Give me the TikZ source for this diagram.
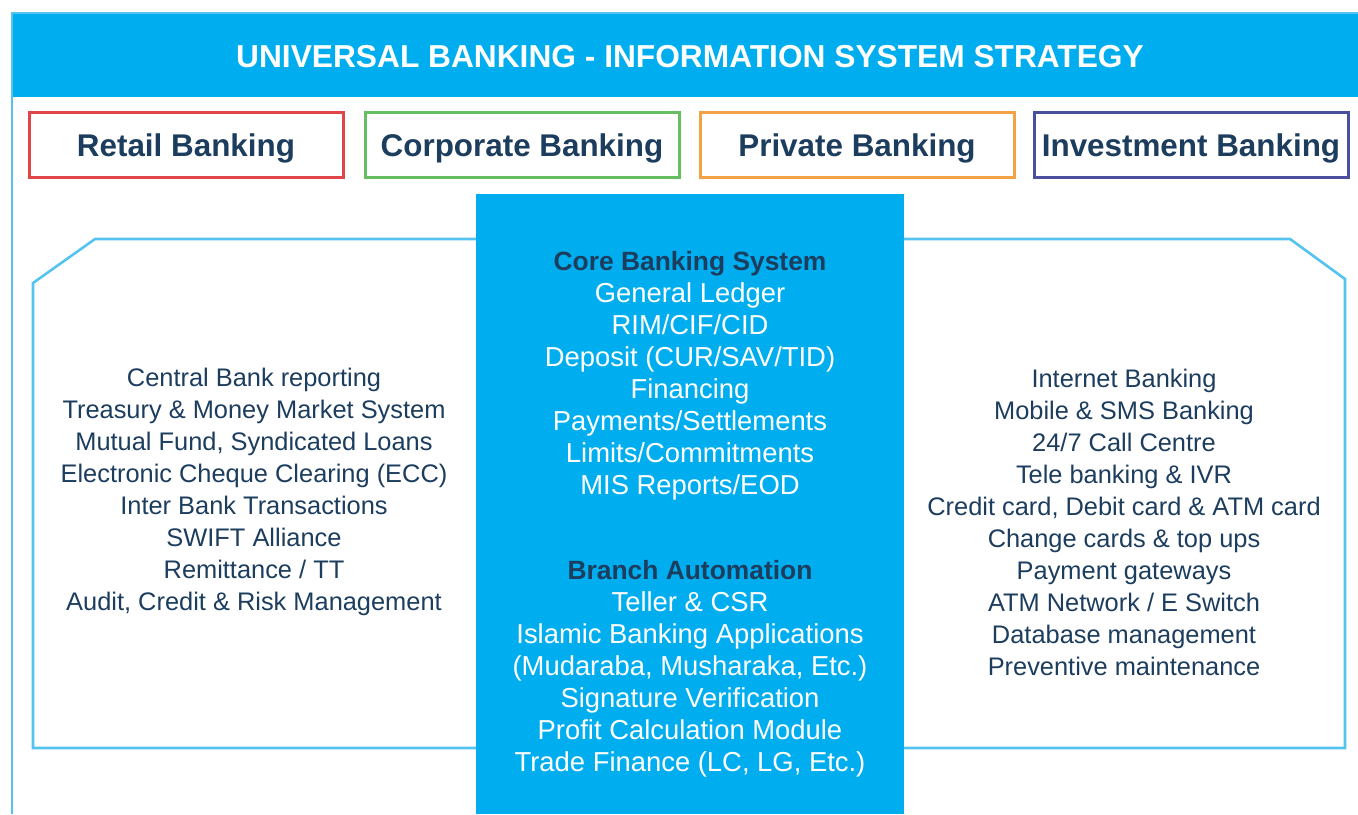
\documentclass[tikz,border=0pt]{standalone}
\usepackage{fontspec}
\setmainfont{Liberation Sans}
\usepackage{tikz}
\usetikzlibrary{positioning}
\definecolor{bandblue}{HTML}{00AEEF}
\definecolor{frameline}{HTML}{55C3EF}
\definecolor{inknavy}{HTML}{1C3D5E}
\definecolor{retailR}{HTML}{E0454A}
\definecolor{corpG}{HTML}{66BE62}
\definecolor{privO}{HTML}{F3A246}
\definecolor{investB}{HTML}{4A509E}
\newcommand{\blockhead}[1]{{\bfseries\color{inknavy}\fontsize{13.2}{16}\selectfont #1}}

\begin{document}
\begin{tikzpicture}[x=0.5pt, y=-0.5pt,
    unitbox/.style={draw, line width=1.5pt, fill=white, minimum width=157pt, minimum height=32.5pt, inner sep=0pt, text height=13.5pt, text depth=2pt, text=inknavy, font=\bfseries\fontsize{15.7}{18}\selectfont},
    sidelist/.style={align=center, inner sep=0pt, text=inknavy, font=\fontsize{12.7}{16}\selectfont},
    corelist/.style={align=center, inner sep=0pt, text=white, font=\fontsize{13.7}{16}\selectfont}
]
\useasboundingbox (0,0) rectangle (1358,814);

% ---- banner and outer frame ----
\fill[bandblue] (12,14) rectangle (1358,97);
\draw[frameline, line width=1.3pt] (12,814) -- (12,13) -- (1358,13);
\node[text=white, font=\bfseries\fontsize{15.85}{18}\selectfont] (title) at (690,57) {UNIVERSAL BANKING - INFORMATION SYSTEM STRATEGY};

% ---- business lines ----
\node[unitbox, draw=retailR] (retail) at (186,145) {Retail Banking};
\node[unitbox, draw=corpG, right=9.5pt of retail] (corporate) {Corporate Banking};
\node[unitbox, draw=privO, right=9pt of corporate] (private) {Private Banking};
\node[unitbox, draw=investB, right=8.5pt of private] (investment) {Investment Banking};

% ---- inner frame (chamfered top corners) ----
\draw[frameline, line width=1.3pt] (33,748) -- (33,283) -- (95,239) -- (1290,239) -- (1345,279) -- (1345,748) -- cycle;

% ---- core block in the middle ----
\fill[bandblue] (476,194) rectangle (904,814);

\node[corelist] (cbs) at (690,376) {\blockhead{Core Banking System}\\
General Ledger\\ RIM/CIF/CID\\ Deposit (CUR/SAV/TID)\\ Financing\\ Payments/Settlements\\ Limits/Commitments\\ MIS Reports/EOD};

\node[corelist] (branch) at (690,669) {\blockhead{Branch Automation}\\
Teller \& CSR\\ Islamic Banking Applications\\ (Mudaraba, Musharaka, Etc.)\\ Signature Verification\\ Profit Calculation Module\\ Trade Finance (LC, LG, Etc.)};

% ---- left: back office ----
\node[sidelist] (backoffice) at (254,492) {Central Bank reporting\\ Treasury \& Money Market System\\ Mutual Fund, Syndicated Loans\\ Electronic Cheque Clearing (ECC)\\ Inter Bank Transactions\\ SWIFT Alliance\\ Remittance / TT\\ Audit, Credit \& Risk Management};

% ---- right: delivery channels ----
\node[sidelist] (channels) at (1124,522) {Internet Banking\\ Mobile \& SMS Banking\\ 24/7 Call Centre\\ Tele banking \& IVR\\ Credit card, Debit card \& ATM card\\ Change cards \& top ups\\ Payment gateways\\ ATM Network / E Switch\\ Database management\\ Preventive maintenance};
\end{tikzpicture}
\end{document}
